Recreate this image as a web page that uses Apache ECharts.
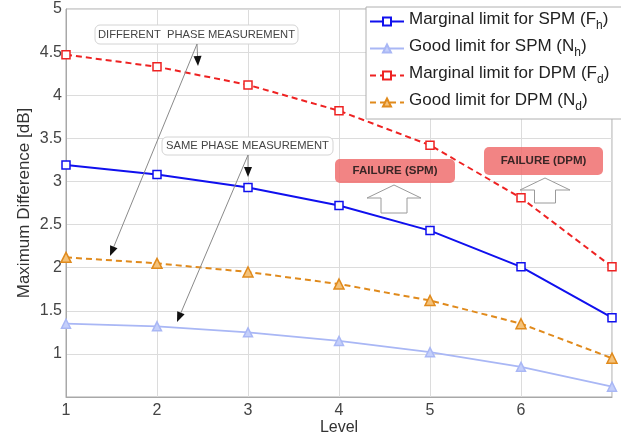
<!DOCTYPE html>
<html>
<head>
<meta charset="utf-8">
<script src="https://cdn.jsdelivr.net/npm/echarts@6/dist/echarts.min.js"></script>
<style>
  html, body { margin: 0; padding: 0; background: #fff; }
  #chart { width: 621px; height: 433px; }
</style>
</head>
<body>
<div id="chart"></div>
<script>
// Detection levels on the horizontal axis
const levels = [1, 2, 3, 4, 5, 6, 7];
const xTickLabels = ['1', '2', '3', '4', '5', '6', ''];

// Maximum difference [dB] per level
const marginalSPM = [3.19, 3.08, 2.93, 2.72, 2.43, 2.01, 1.42];
const goodSPM     = [1.35, 1.32, 1.25, 1.15, 1.02, 0.85, 0.62];
const marginalDPM = [4.47, 4.33, 4.12, 3.82, 3.42, 2.81, 2.01];
const goodDPM     = [2.12, 2.05, 1.95, 1.81, 1.62, 1.35, 0.95];

// Legend labels: main text plus subscript letter
const legendMain = ['Marginal limit for SPM (F', 'Good limit for SPM (N', 'Marginal limit for DPM (F', 'Good limit for DPM (N'];
const legendSub  = ['h', 'h', 'd', 'd'];

const seriesNames = legendMain.map((m, i) => m + legendSub[i] + ')');
const pairs = vals => levels.map((x, i) => [x, vals[i]]);

const FONT = '"Liberation Sans", Arial, sans-serif';

const chart = echarts.init(document.getElementById('chart'), null, { renderer: 'canvas' });

// Arrow with a black triangular head, given start and end in pixels
function arrow(x1, y1, x2, y2) {
  const ang = Math.atan2(y2 - y1, x2 - x1);
  const L = 10, W = 4;
  const bx = x2 - L * Math.cos(ang), by = y2 - L * Math.sin(ang);
  const px = -Math.sin(ang) * W, py = Math.cos(ang) * W;
  return [
    { type: 'line', z: 50, shape: { x1, y1, x2: bx, y2: by }, style: { stroke: '#8a8a8a', lineWidth: 1 } },
    { type: 'polygon', z: 51, shape: { points: [[x2, y2], [bx + px, by + py], [bx - px, by - py]] }, style: { fill: '#111' } }
  ];
}

// Hollow up-pointing block arrow
function blockArrow(cx, top, headW, headH, stemW, bottom) {
  return {
    type: 'polygon', z: 40,
    shape: { points: [
      [cx, top], [cx + headW / 2, top + headH], [cx + stemW / 2, top + headH],
      [cx + stemW / 2, bottom], [cx - stemW / 2, bottom], [cx - stemW / 2, top + headH],
      [cx - headW / 2, top + headH]
    ] },
    style: { fill: '#fff', stroke: '#9a9a9a', lineWidth: 1 }
  };
}

function noteBox(x, y, w, h, text, size) {
  return [
    { type: 'rect', z: 45, shape: { x, y, width: w, height: h, r: 5 }, style: { fill: '#fff', stroke: '#d4d4d4', lineWidth: 1 } },
    { type: 'text', z: 46, x: x + w / 2, y: y + h / 2,
      style: { text, fontSize: size, fontFamily: FONT, fill: '#444', align: 'center', verticalAlign: 'middle' } }
  ];
}

function failBox(x, y, w, h, text) {
  return [
    { type: 'rect', z: 45, shape: { x, y, width: w, height: h, r: 5 }, style: { fill: 'rgba(240,110,110,0.85)' } },
    { type: 'text', z: 46, x: x + w / 2, y: y + h / 2,
      style: { text, fontSize: 11.5, fontWeight: 'bold', fontFamily: FONT, fill: '#3a2626', align: 'center', verticalAlign: 'middle' } }
  ];
}

const graphics = [].concat(
  noteBox(95, 25, 203, 19, 'DIFFERENT  PHASE MEASUREMENT', 11.2),
  noteBox(162, 137, 171, 18, 'SAME PHASE MEASUREMENT', 11.2),
  arrow(197, 44, 198, 66),
  arrow(197, 44, 110, 256),
  arrow(248, 155, 248, 177),
  arrow(248, 155, 177, 322),
  failBox(335, 159, 120, 24, 'FAILURE (SPM)'),
  failBox(484, 147, 119, 28, 'FAILURE (DPM)'),
  [blockArrow(394, 185, 54, 13, 26, 213), blockArrow(545, 178, 50, 12, 21, 203)]
);

const option = {
  animation: false,
  backgroundColor: '#fff',
  textStyle: { fontFamily: FONT },
  grid: { left: 66, right: 9, top: 9, bottom: 36, show: true, borderColor: '#a8a8a8', borderWidth: 1,
    outerBoundsMode: 'none', containLabel: false },
  xAxis: {
    type: 'value', min: 1, max: 7, interval: 1,
    name: 'Level', nameLocation: 'middle', nameGap: 23, nameMoveOverlap: false,
    nameTextStyle: { fontSize: 16, color: '#333', fontFamily: FONT },
    axisLine: { show: true, lineStyle: { color: '#a8a8a8' } },
    axisTick: { show: false },
    axisLabel: { fontSize: 16, color: '#444', margin: 6, fontFamily: FONT,
      formatter: v => xTickLabels[levels.indexOf(v)] ?? '' },
    splitLine: { show: true, lineStyle: { color: '#dcdcdc' } }
  },
  yAxis: {
    type: 'value', min: 0.5, max: 5, interval: 0.5,
    name: 'Maximum Difference [dB]', nameLocation: 'middle', nameGap: 33, nameMoveOverlap: false,
    nameTextStyle: { fontSize: 17, color: '#333', fontFamily: FONT },
    axisLine: { show: true, lineStyle: { color: '#a8a8a8' } },
    axisTick: { show: false },
    axisLabel: { fontSize: 16, color: '#444', margin: 4, fontFamily: FONT,
      formatter: v => (v === 0.5 ? '' : String(v)) },
    splitLine: { show: true, lineStyle: { color: '#dcdcdc' } }
  },
  legend: {
    orient: 'vertical', left: 366, top: 7,
    backgroundColor: '#fff', borderColor: '#b0b0b0', borderWidth: 1, borderRadius: 0,
    padding: [4, 30, 6, 3], itemGap: 6, itemWidth: 34, itemHeight: 10,
    data: seriesNames,
    formatter: name => {
      const i = seriesNames.indexOf(name);
      return '{t|' + legendMain[i] + '}{s|' + legendSub[i] + '}{t|)}';
    },
    textStyle: {
      fontFamily: FONT, color: '#222',
      rich: {
        t: { fontSize: 17, fontFamily: FONT, color: '#222', padding: [0, 0, 4, 0] },
        s: { fontSize: 12, fontFamily: FONT, color: '#222', padding: [9, 0, 0, 0] }
      }
    }
  },
  series: [
    { name: seriesNames[0], type: 'line', data: pairs(marginalSPM), symbol: 'rect', symbolSize: 8,
      lineStyle: { color: '#1010ee', width: 2 }, itemStyle: { color: '#fff', borderColor: '#1010ee', borderWidth: 1.5 }, z: 4 },
    { name: seriesNames[1], type: 'line', data: pairs(goodSPM), symbol: 'triangle', symbolSize: 9,
      lineStyle: { color: '#a9b7f5', width: 1.8 }, itemStyle: { color: '#c4cffa', borderColor: '#a9b7f5', borderWidth: 1.5 }, z: 3 },
    { name: seriesNames[2], type: 'line', data: pairs(marginalDPM), symbol: 'rect', symbolSize: 8,
      lineStyle: { color: '#ee2222', width: 2, type: [6, 4] }, itemStyle: { color: '#fff', borderColor: '#ee2222', borderWidth: 1.5 }, z: 4 },
    { name: seriesNames[3], type: 'line', data: pairs(goodDPM), symbol: 'triangle', symbolSize: 10,
      lineStyle: { color: '#e08a1c', width: 2, type: [6, 4] }, itemStyle: { color: '#f4c27a', borderColor: '#e08a1c', borderWidth: 1.5 }, z: 3 }
  ],
  graphic: graphics
};

chart.setOption(option);
</script>
</body>
</html>
